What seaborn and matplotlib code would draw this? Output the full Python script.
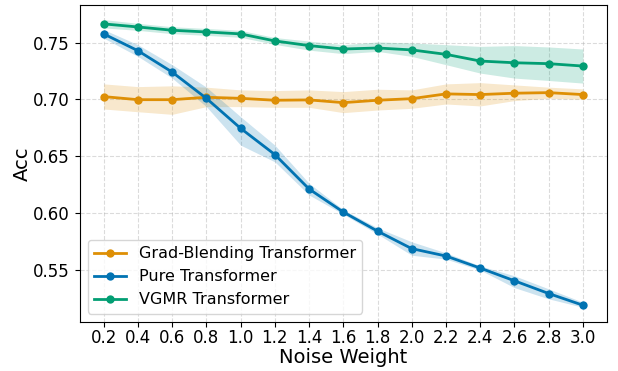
import matplotlib
matplotlib.use("Agg")
import matplotlib.pyplot as plt
import seaborn as sns
import pandas as pd
import numpy as np

noise = [0.2, 0.4, 0.6, 0.8, 1.0, 1.2, 1.4, 1.6, 1.8, 2.0, 2.2, 2.4, 2.6, 2.8, 3.0]
tick_labels = ["0.2", "0.4", "0.6", "0.8", "1.0", "1.2", "1.4", "1.6", "1.8", "2.0",
               "2.2", "2.4", "2.6", "2.8", "3.0"]

models = ["Grad-Blending Transformer", "Pure Transformer", "VGMR Transformer"]

grad_mean = [0.7025, 0.6998, 0.6998, 0.7019, 0.7010, 0.6993, 0.6996, 0.6972, 0.6993, 0.7007,
             0.7049, 0.7043, 0.7055, 0.7060, 0.7043]
grad_low = [0.6916, 0.6892, 0.6869, 0.6937, 0.6937, 0.6931, 0.6931, 0.6884, 0.6907, 0.6922,
            0.6960, 0.6943, 0.6990, 0.7010, 0.7002]
grad_high = [0.7137, 0.7113, 0.7120, 0.7108, 0.7084, 0.7078, 0.7084, 0.7069, 0.7090, 0.7084,
             0.7137, 0.7148, 0.7128, 0.7108, 0.7093]

pure_mean = [0.7577, 0.7429, 0.7241, 0.7010, 0.6746, 0.6515, 0.6212, 0.6009, 0.5841, 0.5687,
             0.5622, 0.5516, 0.5404, 0.5292, 0.5189]
pure_low = [0.7540, 0.7379, 0.7188, 0.6937, 0.6598, 0.6451, 0.6159, 0.5990, 0.5815, 0.5629,
            0.5595, 0.5498, 0.5344, 0.5245, 0.5171]
pure_high = [0.7615, 0.7482, 0.7306, 0.7108, 0.6848, 0.6598, 0.6262, 0.6030, 0.5870, 0.5747,
             0.5650, 0.5535, 0.5448, 0.5333, 0.5215]

vgmr_mean = [0.7665, 0.7638, 0.7609, 0.7594, 0.7577, 0.7515, 0.7474, 0.7444, 0.7453, 0.7436,
             0.7397, 0.7338, 0.7323, 0.7315, 0.7294]
vgmr_low = [0.7630, 0.7608, 0.7579, 0.7564, 0.7547, 0.7485, 0.7434, 0.7403, 0.7423, 0.7379,
            0.7306, 0.7232, 0.7188, 0.7167, 0.7144]
vgmr_high = [0.7703, 0.7670, 0.7640, 0.7625, 0.7608, 0.7545, 0.7514, 0.7482, 0.7506, 0.7497,
             0.7482, 0.7467, 0.7474, 0.7462, 0.7444]

means = [grad_mean, pure_mean, vgmr_mean]
lows = [grad_low, pure_low, vgmr_low]
highs = [grad_high, pure_high, vgmr_high]

cb = sns.color_palette("colorblind")
palette = {models[0]: cb[1], models[1]: cb[0], models[2]: cb[2]}

rows = []
for m, mean in zip(models, means):
    for x, v in zip(noise, mean):
        rows.append({"Noise Weight": x, "Acc": v, "Model": m})
df = pd.DataFrame(rows)

fig, ax = plt.subplots(figsize=(6.18, 3.71), dpi=100)
fig.subplots_adjust(left=0.129, right=0.982, top=0.986, bottom=0.133)

sns.lineplot(data=df, x="Noise Weight", y="Acc", hue="Model", hue_order=models,
             palette=palette, marker="o", markersize=6, markeredgewidth=0,
             linewidth=2, ax=ax, errorbar=None)

for m, lo, hi in zip(models, lows, highs):
    ax.fill_between(noise, lo, hi, color=palette[m], alpha=0.2, linewidth=0)

ax.set_xticks(noise)
ax.set_xticklabels(tick_labels)
ax.set_yticks([0.55, 0.60, 0.65, 0.70, 0.75])
ax.tick_params(axis="both", labelsize=12)
ax.tick_params(axis="x", pad=1.8)
ax.set_xlabel("Noise Weight", fontsize=14, labelpad=1)
ax.set_ylabel("Acc", fontsize=14, labelpad=1)
ax.grid(True, linestyle="--", alpha=0.45)
ax.set_axisbelow(True)
ax.legend(loc="lower left", fontsize=11.5, title=None)

fig.savefig("out.png", dpi=100)
